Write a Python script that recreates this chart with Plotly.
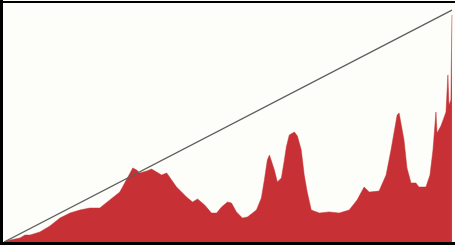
import plotly.graph_objects as go

# Histogram levels (0-255) and relative counts (0-100)
levels = [0, 3.4, 9.1, 11.9, 14.8, 20.4, 26.1, 31.8, 37.5, 43.2, 48.8, 54.5, 60.2, 65.9,
          68.7, 71.6, 73.3, 75.5, 77.2, 81.2, 84.0, 89.7, 92.6, 95.4, 98.2, 103.9, 107.3,
          110.2, 114.2, 118.1, 121.0, 123.8, 127.2, 129.5, 132.3, 135.7, 138.6, 143.7,
          146.5, 148.2, 149.9, 151.1, 152.8, 153.9, 155.6, 157.9, 159.6, 160.7, 162.4,
          165.3, 167.0, 169.2, 170.9, 172.6, 174.9, 179.5, 185.1, 190.8, 196.5, 201.0,
          205.0, 207.9, 213.5, 217.5, 220.3, 222.0, 223.8, 224.9, 226.6, 227.7, 229.4,
          231.7, 234.5, 236.2, 240.2, 242.5, 244.2, 245.3, 245.9, 246.5, 248.7, 250.4,
          251.6, 252.7, 253.3, 254.4, 255.0]
counts = [0, 0.8, 1.7, 2.9, 2.9, 4.2, 6.7, 10.0, 12.1, 13.4, 14.2, 14.2, 17.6, 20.9,
          24.7, 28.9, 31.0, 30.1, 28.9, 29.7, 30.5, 28.0, 28.9, 25.9, 23.0, 18.8, 16.7,
          18.0, 15.5, 12.1, 12.1, 14.6, 16.7, 16.3, 12.6, 10.0, 10.5, 13.4,
          18.4, 25.9, 34.3, 36.4, 33.1, 30.1, 25.1, 26.8, 34.3, 39.7, 44.8,
          46.0, 44.4, 38.5, 28.0, 20.9, 13.4, 12.1, 12.6, 12.1, 13.4, 17.6,
          23.0, 20.9, 21.3, 28.0, 38.5, 45.6, 53.1, 54.0, 47.7, 42.7, 31.0,
          24.7, 24.7, 23.0, 23.0, 28.0, 38.5, 46.9, 54.4, 45.6, 48.5, 51.9,
          54.4, 69.9, 57.3, 59.4, 95.0]

# Diagonal reference line endpoints
line_levels = [0, 255]
line_values = [0, 97]

fig = go.Figure()
fig.add_trace(go.Scatter(
    x=levels, y=counts, mode="lines", fill="tozeroy",
    line=dict(color="#c73035", width=0.5), fillcolor="#c73035",
    hoverinfo="skip", showlegend=False))
fig.add_trace(go.Scatter(
    x=line_levels, y=line_values, mode="lines",
    line=dict(color="#5e5e5e", width=1.3),
    hoverinfo="skip", showlegend=False))

W, H = 455, 245
ml, mr, mt, mb = 3, 2, 3, 3
pw, ph = W - ml - mr, H - mt - mb
frame = [
    # left, top, bottom black frame bars
    dict(x0=-ml / pw, x1=0, y0=-mb / ph, y1=1 + mt / ph),
    dict(x0=-ml / pw, x1=1 + mr / pw, y0=1, y1=1 + (mt - 1) / ph),
    dict(x0=-ml / pw, x1=1 + mr / pw, y0=-mb / ph, y1=0),
]
shapes = [dict(type="rect", xref="paper", yref="paper", fillcolor="#000000",
               line=dict(width=0), layer="above", **f) for f in frame]

fig.update_layout(
    width=W, height=H,
    margin=dict(l=ml, r=mr, t=mt, b=mb),
    paper_bgcolor="#fdfdf9",
    plot_bgcolor="#fdfdf9",
    shapes=shapes,
    xaxis=dict(range=[-0.6, 255.6], visible=False, fixedrange=True),
    yaxis=dict(range=[0, 100], visible=False, fixedrange=True),
)
fig.write_html("out.html", config={"displayModeBar": False},
               post_script="document.body.style.margin='0';document.body.style.overflow='hidden';")
